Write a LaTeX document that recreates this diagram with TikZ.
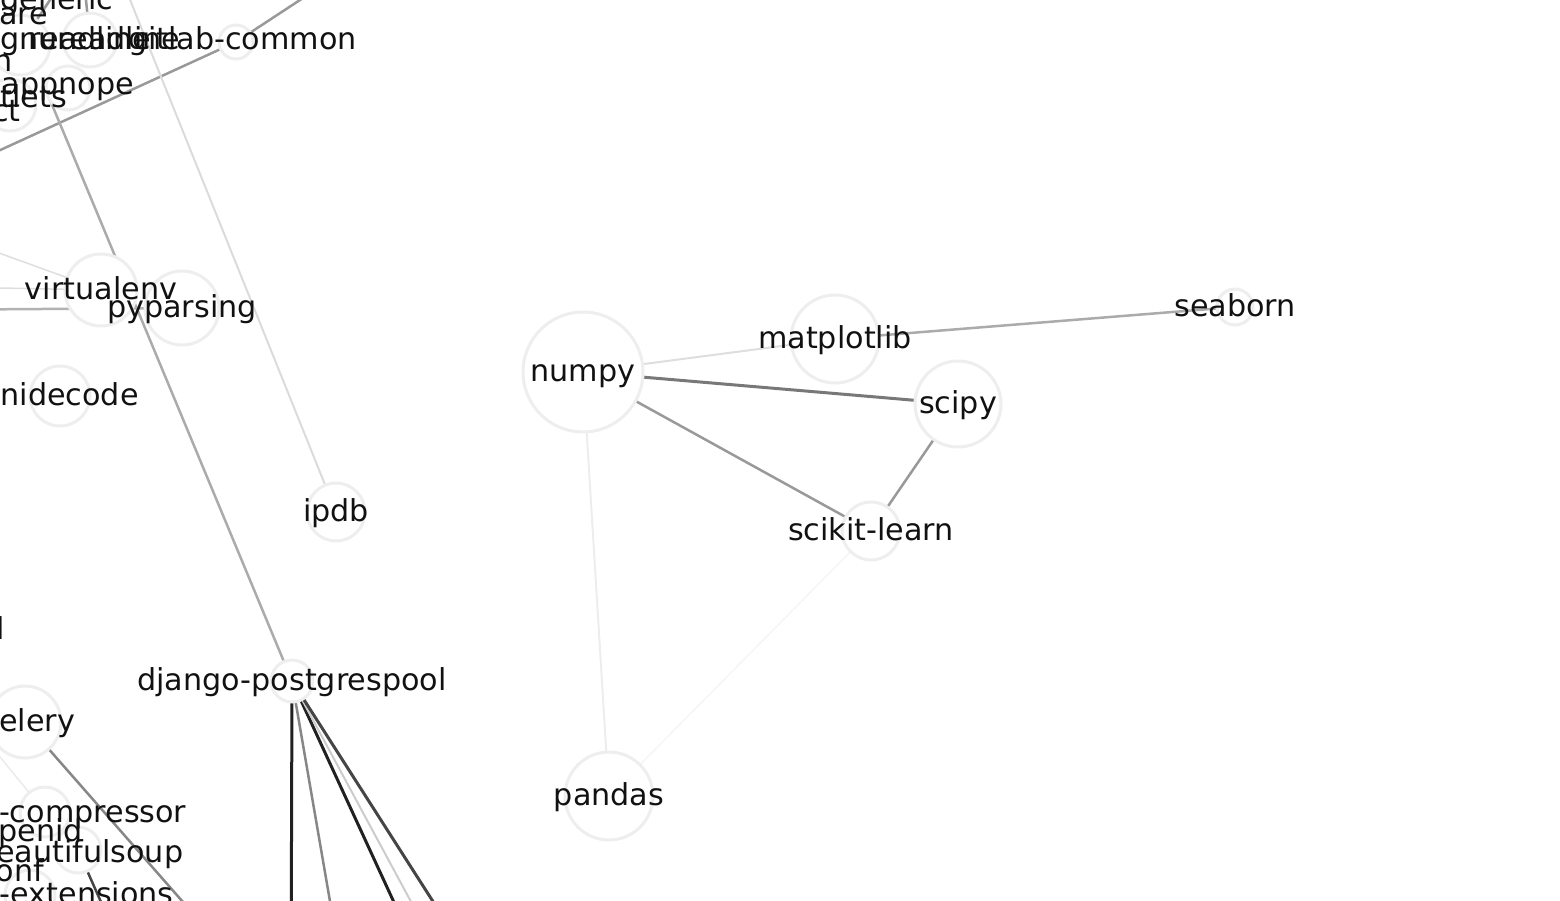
\documentclass[tikz,border=0pt]{standalone}
\usepackage{fontspec}
\setmainfont{DejaVu Sans}
\pgfdeclarelayer{background}
\pgfsetlayers{background,main}
\definecolor{ring}{HTML}{EEEEEE}
\definecolor{ink}{HTML}{111111}
\tikzset{
  vtx/.style={circle, draw=ring, fill=white, line width=3pt, inner sep=0pt, minimum size=#1},
  lbl/.style={inner sep=0pt, text=ink, font=\fontsize{30.2}{36}\selectfont, text height=22.8pt, text depth=4.6pt},
  edg/.style={line width=#1},
}
\begin{document}
\begin{tikzpicture}[x=1pt,y=-1pt]
\useasboundingbox (0,0) rectangle (1560,900);
\clip (0,0) rectangle (1560,900);

% free ends of connectors leaving the picture
\coordinate (o1) at (364,-42);
\coordinate (o2) at (-100,196);
\coordinate (o3) at (106,-60);
\coordinate (o4) at (48,95);
\coordinate (o5) at (-100,217);
\coordinate (o6) at (-100,286);
\coordinate (o7) at (-100,310);
\coordinate (o8) at (291,1000);
\coordinate (o9) at (347,1000);
\coordinate (o10) at (439,1000);
\coordinate (o11) at (464,1000);
\coordinate (o12) at (496,1000);
\coordinate (o13) at (269,1000);
\coordinate (o14) at (-40,708);
\coordinate (o15) at (120,945);
\coordinate (o16) at (70,-30);
\coordinate (o17) at (82,-40);

% vertices
\node[vtx=120pt] (numpy) at (583,372) {};
\node[vtx=88pt] (matplotlib) at (835,339) {};
\node[vtx=86pt] (scipy) at (958,404) {};
\node[vtx=58pt] (scikit) at (871,531) {};
\node[vtx=36pt] (seaborn) at (1235,307) {};
\node[vtx=88pt] (pandas) at (609,796) {};
\node[vtx=58pt] (ipdb) at (336,512) {};
\node[vtx=42pt] (dpg) at (292,681) {};
\node[vtx=72pt] (virtualenv) at (101,290) {};
\node[vtx=74pt] (pyparsing) at (182,308) {};
\node[vtx=60pt] (unidecode) at (60,396) {};
\node[vtx=72pt] (celery) at (25,722) {};
\node[vtx=34pt] (labcommon) at (236,42) {};
\node[vtx=54pt] (rl) at (90,40) {};
\node[vtx=60pt] (tl) at (20,45) {};
\node[vtx=44pt] (appnope) at (68,88) {};
\node[vtx=52pt] (traitlets) at (10,105) {};
\node[vtx=50pt] (compressor) at (45,812) {};
\node[vtx=46pt] (bsoup) at (78,850) {};
\node[vtx=50pt] (extensions) at (30,895) {};

% connectors
\begin{pgfonlayer}{background}
\draw[edg=2pt, draw=black!13] (numpy.center) -- (matplotlib.center);
\draw[edg=3pt, draw=black!53] (numpy.center) -- (scipy.center);
\draw[edg=2.5pt, draw=black!40] (numpy.center) -- (scikit.center);
\draw[edg=2.5pt, draw=black!40] (scipy.center) -- (scikit.center);
\draw[edg=2.5pt, draw=black!33] (matplotlib.center) -- (seaborn.center);
\draw[edg=2pt, draw=black!7] (numpy.center) -- (pandas.center);
\draw[edg=1.5pt, draw=black!4] (scikit.center) -- (pandas.center);
\draw[edg=2.5pt, draw=black!40] (labcommon.center) -- (o1);
\draw[edg=2.5pt, draw=black!40] (labcommon.center) -- (o2);
\draw[edg=2pt, draw=black!14] (ipdb.center) -- (o3);
\draw[edg=2.5pt, draw=black!33] (o4) -- (dpg.center);
\draw[edg=1.5pt, draw=black!13] (virtualenv.center) -- (o5);
\draw[edg=1.5pt, draw=black!13] (virtualenv.center) -- (o6);
\draw[edg=2.5pt, draw=black!30] (pyparsing.center) -- (o7);
\draw[edg=3pt, draw=black!87] (dpg.center) -- (o8);
\draw[edg=2.5pt, draw=black!47] (dpg.center) -- (o9);
\draw[edg=3pt, draw=black!87] (dpg.center) -- (o10);
\draw[edg=2pt, draw=black!20] (dpg.center) -- (o11);
\draw[edg=3pt, draw=black!73] (dpg.center) -- (o12);
\draw[edg=2.5pt, draw=black!47] (celery.center) -- (o13);
\draw[edg=1.5pt, draw=black!8] (o14) -- (compressor.center);
\draw[edg=2.5pt, draw=black!73] (bsoup.center) -- (o15);
\draw[edg=2.5pt, draw=black!40] (tl.center) -- (o16);
\draw[edg=2.5pt, draw=black!40] (rl.center) -- (o17);
\end{pgfonlayer}

% labels
\node[lbl] (Lnumpy) at (numpy) {numpy};
\node[lbl] (Lmatplotlib) at (matplotlib) {matplotlib};
\node[lbl] (Lscipy) at (scipy) {scipy};
\node[lbl] (Lscikit) at (scikit) {scikit-learn};
\node[lbl] (Lseaborn) at (seaborn) {seaborn};
\node[lbl] (Lpandas) at (pandas) {pandas};
\node[lbl] (Lipdb) at (ipdb) {ipdb};
\node[lbl] (Ldpg) at (dpg) {django-postgrespool};
\node[lbl] (Lvirtualenv) at (virtualenv) {virtualenv};
\node[lbl] (Lpyparsing) at (pyparsing) {pyparsing};
\node[lbl] (Lunidecode) at (unidecode) {unidecode};
\node[lbl] (Lcelery) at (29,722) {celery};
\node[lbl, anchor=east] (Llabcommon) at (357,40) {gitlab-common};
\node[lbl, anchor=west] (Lgnu) at (0,40) {gnureadline};
\node[lbl] (Lrl) at (rl) {readline};
\node[lbl] (Lgeneric) at (7,0) {simplegeneric};
\node[lbl] (Lpickle) at (-38,15) {pickleshare};
\node[lbl] (Lipython) at (-44,62) {ipython};
\node[lbl] (Lappnope) at (68,85) {appnope};
\node[lbl] (Ltraitlets) at (8,98) {traitlets};
\node[lbl] (Lpexpect) at (-40,112) {pexpect};
\node[lbl] (Lwheel) at (-40,630) {wheel};
\node[lbl] (Lcompressor) at (41,813) {django-compressor};
\node[lbl] (Lopenid) at (-27,832) {python-openid};
\node[lbl] (Lbsoup) at (80,853) {beautifulsoup};
\node[lbl] (Lappconf) at (-74,872) {django-appconf};
\node[lbl] (Lext) at (35,895) {django-extensions};
\end{tikzpicture}
\end{document}
